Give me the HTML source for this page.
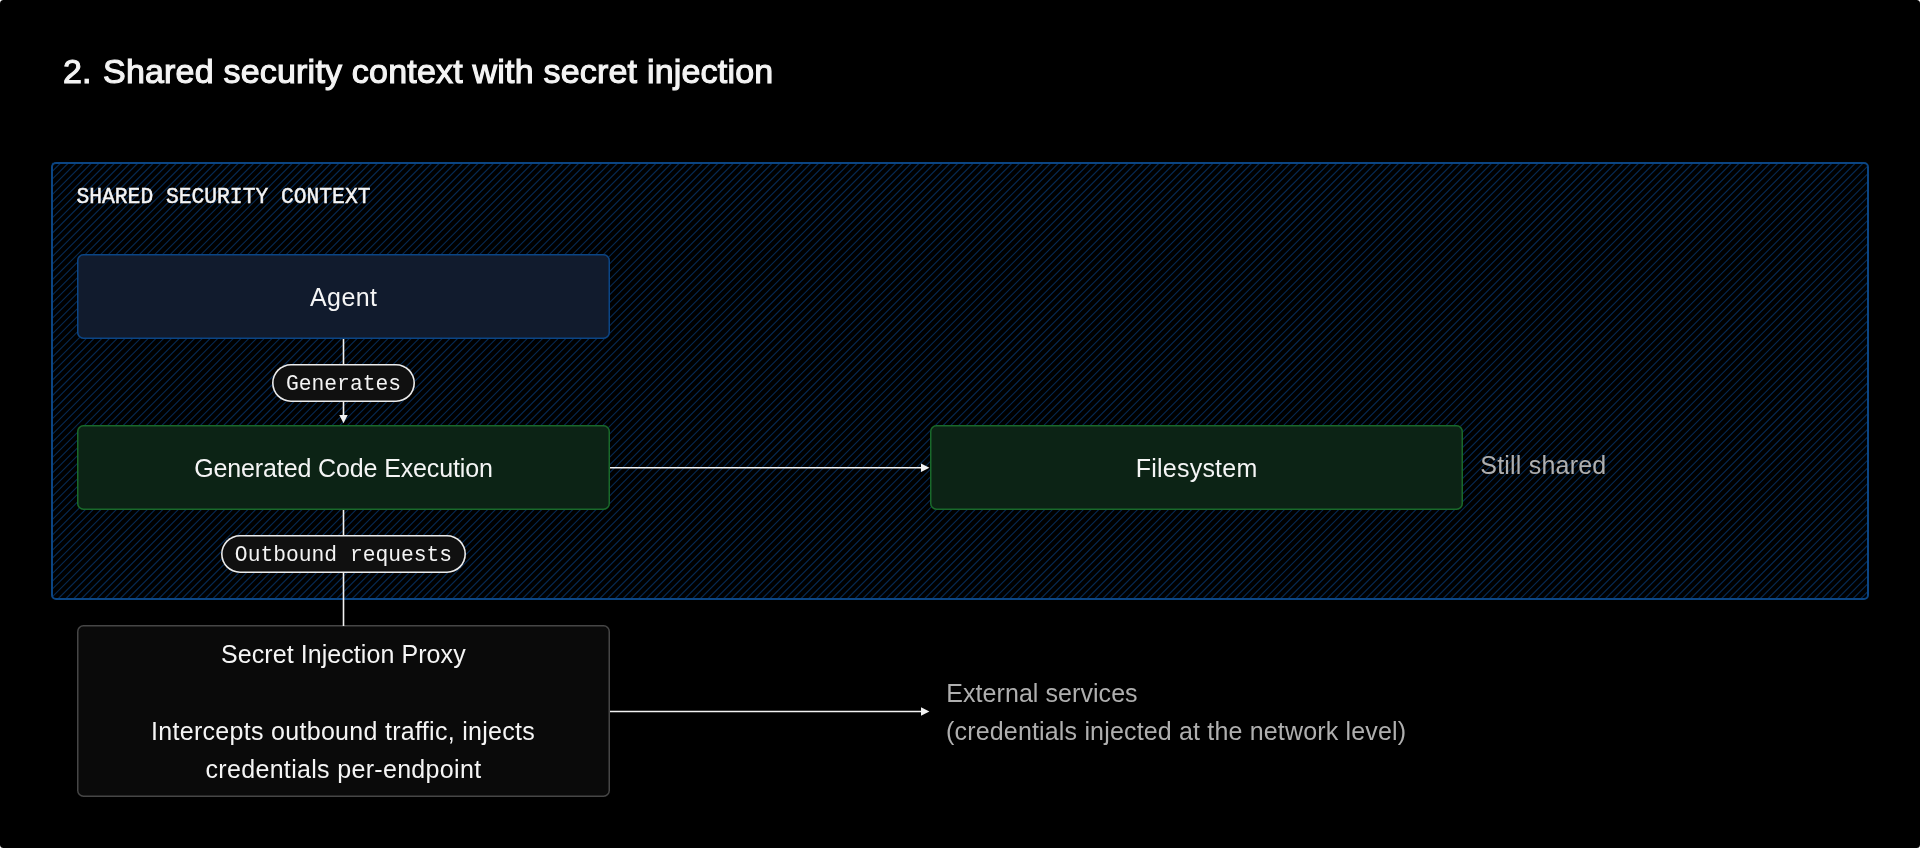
<!DOCTYPE html>
<html lang="en">
<head>
<meta charset="utf-8">
<title>Shared security context with secret injection</title>
<style>
  html, body { margin: 0; padding: 0; background: #ffffff; }
  body { width: 1920px; height: 848px; overflow: hidden; position: relative; }
  .stage {
    position: absolute; left: 0; top: 0; width: 1920px; height: 848px;
    background: #000000; border-radius: 3.5px; overflow: hidden;
    font-family: "Liberation Sans", sans-serif; color: #f5f5f5;
  }
  .layer { position: absolute; left: 0; top: 0; width: 1920px; height: 848px; will-change: transform; }
  .abs { position: absolute; }
  .t { position: absolute; white-space: nowrap; line-height: 1; }
  .mono { font-family: "Liberation Mono", "DejaVu Sans Mono", monospace; }

  .title { top: 54.2px; font-size: 34px; font-weight: 400; letter-spacing: 0.2px; color: #f4f4f4; -webkit-text-stroke: 1.1px #f4f4f4; }

  .ctx {
    left: 51px; top: 162px; width: 1814px; height: 434px;
    border: 2px solid #0b4583; border-radius: 5px;
  }
  .ctx-label { left: 76.5px; top: 186.9px; font-size: 21.3px; color: #f4f4f4; -webkit-text-stroke: 0.45px #f4f4f4; }

  .box { position: absolute; box-sizing: border-box; border-radius: 6.5px; display: flex; align-items: center; justify-content: center; text-align: center; font-size: 25px; color: #f5f5f5; }
  .box span { position: relative; top: 1px; }
  .agent { left: 77px; top: 254px; width: 533px; height: 85px; background: #111b2d; box-shadow: inset 0 0 0 1.5px #0b4585; }
  .gen   { left: 77px; top: 425px; width: 533px; height: 85px; background: #0c2315; box-shadow: inset 0 0 0 1.5px #19692a; }
  .fs    { left: 930px; top: 425px; width: 533px; height: 85px; background: #0c2315; box-shadow: inset 0 0 0 1.5px #19692a; }
  .proxy { left: 77px; top: 625px; width: 533px; height: 172px; background: #0a0a0a; box-shadow: inset 0 0 0 1.5px #464646; }

  .pill { position: absolute; box-sizing: border-box; background: #101010; box-shadow: inset 0 0 0 1.6px #ececec; border-radius: 19px; height: 38px; display: flex; align-items: center; justify-content: center; font-size: 21.3px; color: #f4f4f4; }
  .pill span { position: relative; top: 1px; }
  .pill.p1 { left: 272px; top: 364px; width: 143px; }
  .pill.p2 { left: 221px; top: 535px; width: 245px; }

  .note { color: #afafaf; font-size: 25px; }
</style>
</head>
<body>
<div class="stage">
<div class="layer">

  <svg class="abs" style="left:0;top:0" width="1920" height="848" viewBox="0 0 1920 848">
    <!--HATCH--><path d="M52.0 163.9L52.9 163.0M52.0 171.7L60.7 163.0M52.0 179.4L68.4 163.0M52.0 187.1L76.1 163.0M52.0 194.9L83.9 163.0M52.0 202.6L91.6 163.0M52.0 210.3L99.3 163.0M52.0 218.1L107.1 163.0M52.0 225.8L114.8 163.0M52.0 233.5L122.5 163.0M52.0 241.3L130.3 163.0M52.0 249.0L138.0 163.0M52.0 256.8L145.8 163.0M52.0 264.5L153.5 163.0M52.0 272.2L161.2 163.0M52.0 280.0L169.0 163.0M52.0 287.7L176.7 163.0M52.0 295.4L184.4 163.0M52.0 303.2L192.2 163.0M52.0 310.9L199.9 163.0M52.0 318.6L207.6 163.0M52.0 326.4L215.4 163.0M52.0 334.1L223.1 163.0M52.0 341.9L230.9 163.0M52.0 349.6L238.6 163.0M52.0 357.3L246.3 163.0M52.0 365.1L254.1 163.0M52.0 372.8L261.8 163.0M52.0 380.5L269.5 163.0M52.0 388.3L277.3 163.0M52.0 396.0L285.0 163.0M52.0 403.7L292.7 163.0M52.0 411.5L300.5 163.0M52.0 419.2L308.2 163.0M52.0 426.9L315.9 163.0M52.0 434.7L323.7 163.0M52.0 442.4L331.4 163.0M52.0 450.2L339.2 163.0M52.0 457.9L346.9 163.0M52.0 465.6L354.6 163.0M52.0 473.4L362.4 163.0M52.0 481.1L370.1 163.0M52.0 488.8L377.8 163.0M52.0 496.6L385.6 163.0M52.0 504.3L393.3 163.0M52.0 512.0L401.0 163.0M52.0 519.8L408.8 163.0M52.0 527.5L416.5 163.0M52.0 535.3L424.3 163.0M52.0 543.0L432.0 163.0M52.0 550.7L439.7 163.0M52.0 558.5L447.5 163.0M52.0 566.2L455.2 163.0M52.0 573.9L462.9 163.0M52.0 581.7L470.7 163.0M52.0 589.4L478.4 163.0M52.0 597.1L486.1 163.0M57.9 599.0L493.9 163.0M65.6 599.0L501.6 163.0M73.4 599.0L509.4 163.0M81.1 599.0L517.1 163.0M88.8 599.0L524.8 163.0M96.6 599.0L532.6 163.0M104.3 599.0L540.3 163.0M112.0 599.0L548.0 163.0M119.8 599.0L555.8 163.0M127.5 599.0L563.5 163.0M135.2 599.0L571.2 163.0M143.0 599.0L579.0 163.0M150.7 599.0L586.7 163.0M158.5 599.0L594.5 163.0M166.2 599.0L602.2 163.0M173.9 599.0L609.9 163.0M181.7 599.0L617.7 163.0M189.4 599.0L625.4 163.0M197.1 599.0L633.1 163.0M204.9 599.0L640.9 163.0M212.6 599.0L648.6 163.0M220.3 599.0L656.3 163.0M228.1 599.0L664.1 163.0M235.8 599.0L671.8 163.0M243.6 599.0L679.6 163.0M251.3 599.0L687.3 163.0M259.0 599.0L695.0 163.0M266.8 599.0L702.8 163.0M274.5 599.0L710.5 163.0M282.2 599.0L718.2 163.0M290.0 599.0L726.0 163.0M297.7 599.0L733.7 163.0M305.4 599.0L741.4 163.0M313.2 599.0L749.2 163.0M320.9 599.0L756.9 163.0M328.6 599.0L764.6 163.0M336.4 599.0L772.4 163.0M344.1 599.0L780.1 163.0M351.9 599.0L787.9 163.0M359.6 599.0L795.6 163.0M367.3 599.0L803.3 163.0M375.1 599.0L811.1 163.0M382.8 599.0L818.8 163.0M390.5 599.0L826.5 163.0M398.3 599.0L834.3 163.0M406.0 599.0L842.0 163.0M413.7 599.0L849.7 163.0M421.5 599.0L857.5 163.0M429.2 599.0L865.2 163.0M437.0 599.0L873.0 163.0M444.7 599.0L880.7 163.0M452.4 599.0L888.4 163.0M460.2 599.0L896.2 163.0M467.9 599.0L903.9 163.0M475.6 599.0L911.6 163.0M483.4 599.0L919.4 163.0M491.1 599.0L927.1 163.0M498.8 599.0L934.8 163.0M506.6 599.0L942.6 163.0M514.3 599.0L950.3 163.0M522.1 599.0L958.1 163.0M529.8 599.0L965.8 163.0M537.5 599.0L973.5 163.0M545.3 599.0L981.3 163.0M553.0 599.0L989.0 163.0M560.7 599.0L996.7 163.0M568.5 599.0L1004.5 163.0M576.2 599.0L1012.2 163.0M583.9 599.0L1019.9 163.0M591.7 599.0L1027.7 163.0M599.4 599.0L1035.4 163.0M607.2 599.0L1043.2 163.0M614.9 599.0L1050.9 163.0M622.6 599.0L1058.6 163.0M630.4 599.0L1066.4 163.0M638.1 599.0L1074.1 163.0M645.8 599.0L1081.8 163.0M653.6 599.0L1089.6 163.0M661.3 599.0L1097.3 163.0M669.0 599.0L1105.0 163.0M676.8 599.0L1112.8 163.0M684.5 599.0L1120.5 163.0M692.3 599.0L1128.3 163.0M700.0 599.0L1136.0 163.0M707.7 599.0L1143.7 163.0M715.5 599.0L1151.5 163.0M723.2 599.0L1159.2 163.0M730.9 599.0L1166.9 163.0M738.7 599.0L1174.7 163.0M746.4 599.0L1182.4 163.0M754.1 599.0L1190.1 163.0M761.9 599.0L1197.9 163.0M769.6 599.0L1205.6 163.0M777.3 599.0L1213.3 163.0M785.1 599.0L1221.1 163.0M792.8 599.0L1228.8 163.0M800.6 599.0L1236.6 163.0M808.3 599.0L1244.3 163.0M816.0 599.0L1252.0 163.0M823.8 599.0L1259.8 163.0M831.5 599.0L1267.5 163.0M839.2 599.0L1275.2 163.0M847.0 599.0L1283.0 163.0M854.7 599.0L1290.7 163.0M862.4 599.0L1298.4 163.0M870.2 599.0L1306.2 163.0M877.9 599.0L1313.9 163.0M885.7 599.0L1321.7 163.0M893.4 599.0L1329.4 163.0M901.1 599.0L1337.1 163.0M908.9 599.0L1344.9 163.0M916.6 599.0L1352.6 163.0M924.3 599.0L1360.3 163.0M932.1 599.0L1368.1 163.0M939.8 599.0L1375.8 163.0M947.5 599.0L1383.5 163.0M955.3 599.0L1391.3 163.0M963.0 599.0L1399.0 163.0M970.8 599.0L1406.8 163.0M978.5 599.0L1414.5 163.0M986.2 599.0L1422.2 163.0M994.0 599.0L1430.0 163.0M1001.7 599.0L1437.7 163.0M1009.4 599.0L1445.4 163.0M1017.2 599.0L1453.2 163.0M1024.9 599.0L1460.9 163.0M1032.6 599.0L1468.6 163.0M1040.4 599.0L1476.4 163.0M1048.1 599.0L1484.1 163.0M1055.9 599.0L1491.9 163.0M1063.6 599.0L1499.6 163.0M1071.3 599.0L1507.3 163.0M1079.1 599.0L1515.1 163.0M1086.8 599.0L1522.8 163.0M1094.5 599.0L1530.5 163.0M1102.3 599.0L1538.3 163.0M1110.0 599.0L1546.0 163.0M1117.7 599.0L1553.7 163.0M1125.5 599.0L1561.5 163.0M1133.2 599.0L1569.2 163.0M1141.0 599.0L1577.0 163.0M1148.7 599.0L1584.7 163.0M1156.4 599.0L1592.4 163.0M1164.2 599.0L1600.2 163.0M1171.9 599.0L1607.9 163.0M1179.6 599.0L1615.6 163.0M1187.4 599.0L1623.4 163.0M1195.1 599.0L1631.1 163.0M1202.8 599.0L1638.8 163.0M1210.6 599.0L1646.6 163.0M1218.3 599.0L1654.3 163.0M1226.0 599.0L1662.0 163.0M1233.8 599.0L1669.8 163.0M1241.5 599.0L1677.5 163.0M1249.3 599.0L1685.3 163.0M1257.0 599.0L1693.0 163.0M1264.7 599.0L1700.7 163.0M1272.5 599.0L1708.5 163.0M1280.2 599.0L1716.2 163.0M1287.9 599.0L1723.9 163.0M1295.7 599.0L1731.7 163.0M1303.4 599.0L1739.4 163.0M1311.1 599.0L1747.1 163.0M1318.9 599.0L1754.9 163.0M1326.6 599.0L1762.6 163.0M1334.4 599.0L1770.4 163.0M1342.1 599.0L1778.1 163.0M1349.8 599.0L1785.8 163.0M1357.6 599.0L1793.6 163.0M1365.3 599.0L1801.3 163.0M1373.0 599.0L1809.0 163.0M1380.8 599.0L1816.8 163.0M1388.5 599.0L1824.5 163.0M1396.2 599.0L1832.2 163.0M1404.0 599.0L1840.0 163.0M1411.7 599.0L1847.7 163.0M1419.5 599.0L1855.5 163.0M1427.2 599.0L1863.2 163.0M1434.9 599.0L1868.0 165.9M1442.7 599.0L1868.0 173.7M1450.4 599.0L1868.0 181.4M1458.1 599.0L1868.0 189.1M1465.9 599.0L1868.0 196.9M1473.6 599.0L1868.0 204.6M1481.3 599.0L1868.0 212.3M1489.1 599.0L1868.0 220.1M1496.8 599.0L1868.0 227.8M1504.6 599.0L1868.0 235.6M1512.3 599.0L1868.0 243.3M1520.0 599.0L1868.0 251.0M1527.8 599.0L1868.0 258.8M1535.5 599.0L1868.0 266.5M1543.2 599.0L1868.0 274.2M1551.0 599.0L1868.0 282.0M1558.7 599.0L1868.0 289.7M1566.4 599.0L1868.0 297.4M1574.2 599.0L1868.0 305.2M1581.9 599.0L1868.0 312.9M1589.6 599.0L1868.0 320.6M1597.4 599.0L1868.0 328.4M1605.1 599.0L1868.0 336.1M1612.9 599.0L1868.0 343.9M1620.6 599.0L1868.0 351.6M1628.3 599.0L1868.0 359.3M1636.1 599.0L1868.0 367.1M1643.8 599.0L1868.0 374.8M1651.5 599.0L1868.0 382.5M1659.3 599.0L1868.0 390.3M1667.0 599.0L1868.0 398.0M1674.7 599.0L1868.0 405.7M1682.5 599.0L1868.0 413.5M1690.2 599.0L1868.0 421.2M1698.0 599.0L1868.0 429.0M1705.7 599.0L1868.0 436.7M1713.4 599.0L1868.0 444.4M1721.2 599.0L1868.0 452.2M1728.9 599.0L1868.0 459.9M1736.6 599.0L1868.0 467.6M1744.4 599.0L1868.0 475.4M1752.1 599.0L1868.0 483.1M1759.8 599.0L1868.0 490.8M1767.6 599.0L1868.0 498.6M1775.3 599.0L1868.0 506.3M1783.1 599.0L1868.0 514.1M1790.8 599.0L1868.0 521.8M1798.5 599.0L1868.0 529.5M1806.3 599.0L1868.0 537.3M1814.0 599.0L1868.0 545.0M1821.7 599.0L1868.0 552.7M1829.5 599.0L1868.0 560.5M1837.2 599.0L1868.0 568.2M1844.9 599.0L1868.0 575.9M1852.7 599.0L1868.0 583.7M1860.4 599.0L1868.0 591.4" stroke="#062951" stroke-width="1.1" fill="none"/><!--/HATCH-->
  </svg>

  <div class="t title" style="left:63px">2.</div>
  <div class="t title" style="left:103px">Shared security context with secret injection</div>

  <div class="abs ctx"></div>
  <div class="t mono ctx-label">SHARED SECURITY CONTEXT</div>

  <div class="box agent"><span style="letter-spacing:0.4px;padding-left:0.4px">Agent</span></div>
  <div class="box gen"><span style="letter-spacing:-0.12px">Generated Code Execution</span></div>
  <div class="box fs"><span style="letter-spacing:0.23px;padding-left:0.23px">Filesystem</span></div>
  <div class="box proxy">
    <div class="t" style="left:144px; top:17px; letter-spacing:0.07px;">Secret Injection Proxy</div>
    <div class="t" style="left:74px; top:94px; letter-spacing:0.3px;">Intercepts outbound traffic, injects</div>
    <div class="t" style="left:128.5px; top:132px; letter-spacing:0.32px;">credentials per-endpoint</div>
  </div>

  <div class="t note" id="n1" style="left:1480.3px; top:453px; letter-spacing:0.2px;">Still shared</div>
  <div class="t note" id="n2" style="left:946.3px; top:681px; letter-spacing:0.06px;">External services</div>
  <div class="t note" id="n3" style="left:946px; top:719px; letter-spacing:0.17px;">(credentials injected at the network level)</div>

  <svg class="abs" style="left:0;top:0" width="1920" height="848" viewBox="0 0 1920 848">
    <g stroke="#f2f2f2" stroke-width="1.6" fill="none">
      <line x1="343.5" y1="339" x2="343.5" y2="416"/>
      <line x1="343.5" y1="510" x2="343.5" y2="626"/>
      <line x1="610" y1="467.8" x2="922" y2="467.8"/>
      <line x1="610" y1="711.5" x2="922" y2="711.5"/>
    </g>
    <g fill="#f2f2f2">
      <polygon points="339.3,415 347.7,415 343.5,423.2"/>
      <polygon points="921,463.5 929.4,467.8 921,472.1"/>
      <polygon points="921,707.2 929.4,711.5 921,715.8"/>
    </g>
  </svg>

  <div class="pill p1 mono"><span>Generates</span></div>
  <div class="pill p2 mono"><span>Outbound requests</span></div>

</div>
</div>
</body>
</html>
